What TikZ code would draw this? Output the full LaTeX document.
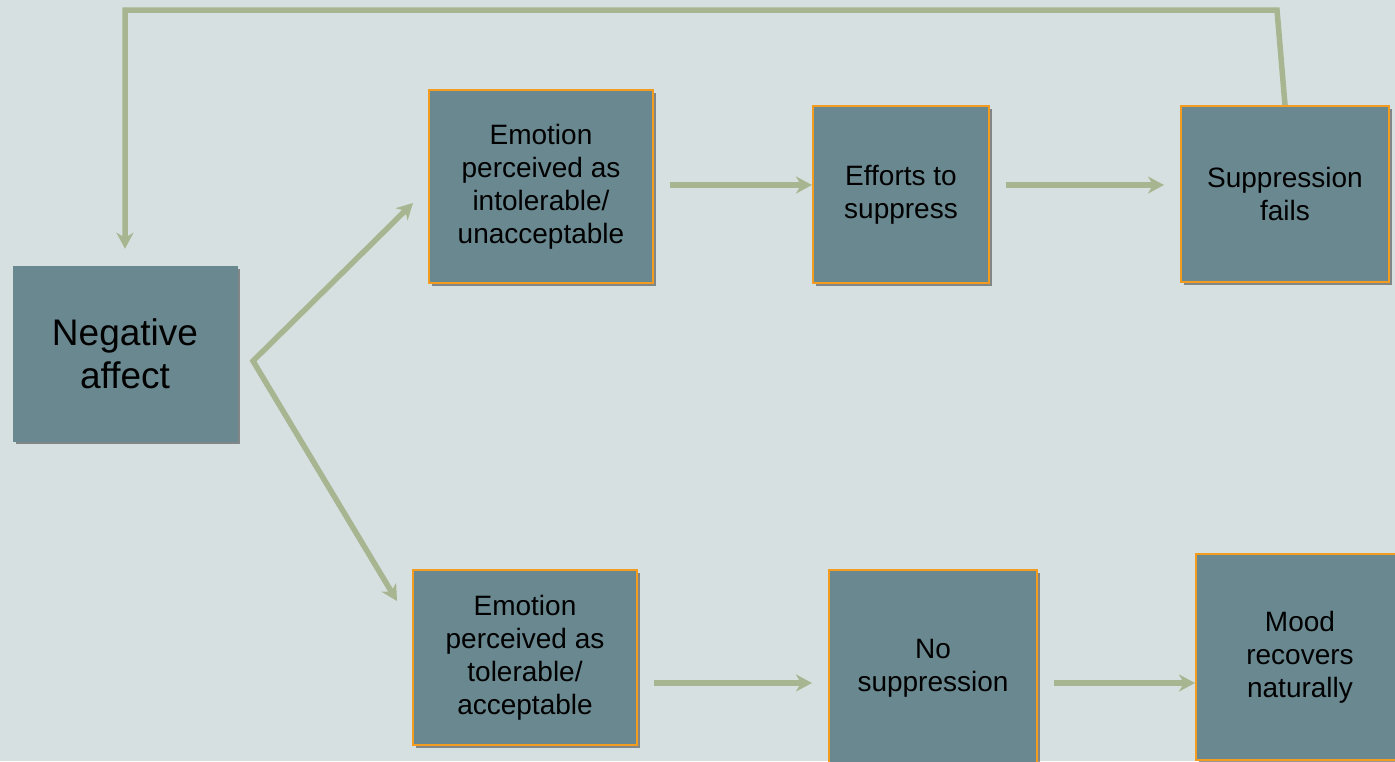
\documentclass[tikz,border=0pt]{standalone}
\usepackage{fontspec}
\setmainfont{Liberation Sans}
\usetikzlibrary{arrows.meta,shadows,calc}
\definecolor{bg}{HTML}{D7E0E1}
\definecolor{boxfill}{HTML}{6A8890}
\definecolor{boxedge}{HTML}{F39C1F}
\definecolor{arrowc}{HTML}{A7B690}
\begin{document}
\begin{tikzpicture}[x=1pt,y=-1pt,
  box/.style={rectangle, fill=boxfill, draw=boxedge, line width=2pt, inner sep=0pt,
    align=center, text=black, font=\fontsize{28}{33}\selectfont,
    drop shadow={shadow xshift=3pt, shadow yshift=-3pt, opacity=0.4, fill=black}},
  mainbox/.style={box, draw=boxfill, line width=0.5pt, font=\fontsize{37}{43}\selectfont},
  tipA/.tip={Stealth[length=16pt,width=17pt,inset=5pt]},
  link/.style={draw=arrowc, line width=5.5pt, line join=miter},
  conn/.style={link, -tipA}]
\fill[bg] (0,0) rectangle (1395,761);
\useasboundingbox (0,0) rectangle (1395,761);

\coordinate (r1) at (0,185);
\coordinate (r2) at (0,683);
\coordinate (j) at (253,361);
\coordinate (ta) at (413,203);
\coordinate (tb) at (397,601);
\coordinate (fb1) at (1277,10);
\coordinate (fb2) at (125,10);

\node[mainbox, minimum width=224pt, minimum height=175pt] (N) at (125,353.5) {Negative\\affect};
\node[box, minimum width=224pt, minimum height=193pt] (A) at (541,186.5) {Emotion\\perceived as\\intolerable/\\unacceptable};
\node[box, minimum width=176pt, minimum height=177pt] (B) at (901,194.5) {Efforts to\\suppress};
\node[box, minimum width=208pt, minimum height=176pt] (C) at (1285,194) {Suppression\\fails};
\node[box, minimum width=224pt, minimum height=175pt] (D) at (525,657.5) {Emotion\\perceived as\\tolerable/\\acceptable};
\node[box, minimum width=208pt, minimum height=196pt] (E) at (933,668) {No\\suppression};
\node[box, minimum width=208pt, minimum height=206pt] (F) at (1300,657) {Mood\\recovers\\naturally};

\draw[link, tipA-tipA] (ta) -- (j) -- (tb);
\draw[conn, shorten <=16pt] (A.east |- r1) -- (B.west |- r1);
\draw[conn, shorten <=16pt, shorten >=16pt] (B.east |- r1) -- (C.west |- r1);
\draw[conn, shorten <=16pt, shorten >=16pt] (D.east |- r2) -- (E.west |- r2);
\draw[conn, shorten <=16pt] (E.east |- r2) -- (F.west |- r2);
\draw[conn, shorten >=17pt] (C.north) -- (fb1) -- (fb2) -- (N.north);
\end{tikzpicture}
\end{document}
